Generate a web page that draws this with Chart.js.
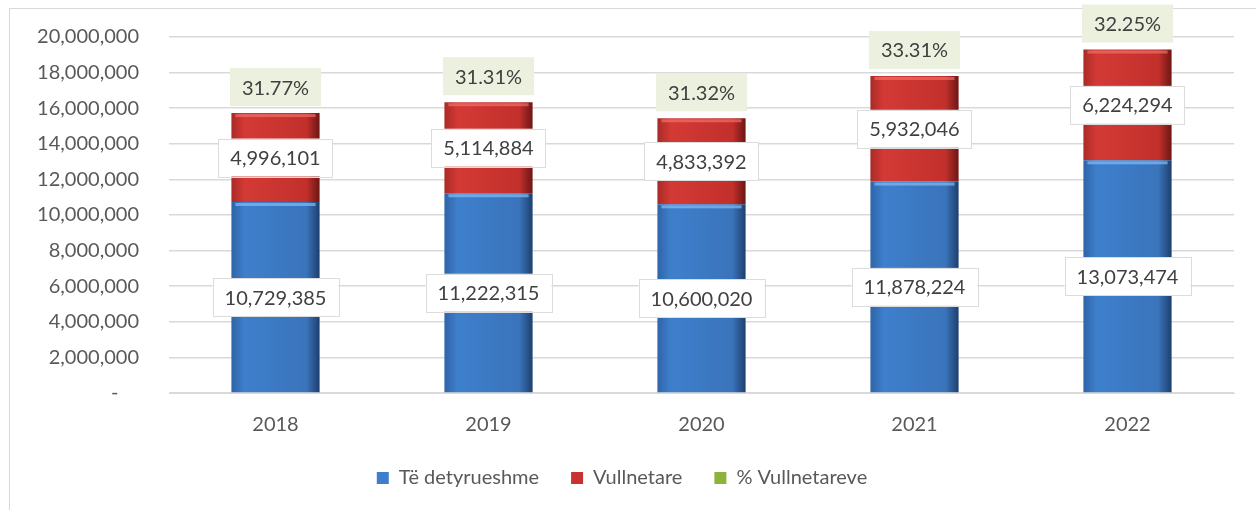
<!DOCTYPE html>
<html lang="sq">
<head>
<meta charset="UTF-8">
<title>Kontributet</title>
<style>
  body { margin: 0; background: #fff; }
  #wrap { width: 1256px; height: 510px; position: relative; }
</style>
</head>
<body>
<div id="wrap"><canvas id="myCanvas"></canvas></div>
<script src="https://cdn.jsdelivr.net/npm/chart.js@4.4.0/dist/chart.umd.min.js"></script>
<script>
// data
const years = ['2018', '2019', '2020', '2021', '2022'];
const detyrueshme = [10729385, 11222315, 10600020, 11878224, 13073474];
const vullnetare = [4996101, 5114884, 4833392, 5932046, 6224294];
const pctVullnetareve = [31.77, 31.31, 31.32, 33.31, 32.25];
const seriesNames = ['Të detyrueshme', 'Vullnetare', '% Vullnetareve'];

const FONT = 'Lato, "Open Sans", sans-serif';
const BAR_PCT = 0.414;

const blueStops = ['#2f64a8', '#3e7fcc', '#3a74bb', '#1d3f6e'];
const redStops = ['#a92a27', '#d33a35', '#c2302c', '#6e1614'];
const legendColors = ['#3e7fcc', '#c9332f', '#8db33a'];

function fmt(v) {
  return v.toLocaleString('en-US');
}

// horizontal shading across each bar, a bit like the excel 3d look
function barFill(stops) {
  return function (ctx) {
    if (ctx.type !== 'data') return stops[1];
    const chart = ctx.chart;
    const x = chart.scales.x;
    if (!x || !chart.chartArea) return stops[1];
    const cx = x.getPixelForValue(ctx.dataIndex);
    const w = (x.width / years.length) * BAR_PCT;
    const g = chart.ctx.createLinearGradient(cx - w / 2, 0, cx + w / 2, 0);
    g.addColorStop(0, stops[0]);
    g.addColorStop(0.15, stops[1]);
    g.addColorStop(0.85, stops[2]);
    g.addColorStop(1, stops[3]);
    return g;
  };
}

function drawBox(c, text, x, y, fill, stroke) {
  const w = c.measureText(text).width + 24;
  const h = 38;
  c.fillStyle = fill;
  c.fillRect(x - w / 2, y - h / 2, w, h);
  if (stroke) {
    c.strokeStyle = stroke;
    c.lineWidth = 1;
    c.strokeRect(Math.round(x - w / 2) + 0.5, Math.round(y - h / 2) + 0.5, Math.round(w), h);
  }
  c.fillStyle = '#404040';
  c.fillText(text, x, y + 1);
}

const frame = {
  id: 'frame',
  beforeDraw(chart) {
    const c = chart.ctx;
    c.save();
    c.strokeStyle = '#d9d9d9';
    c.lineWidth = 1;
    c.strokeRect(9.5, 8.5, chart.width, chart.height);
    c.restore();
  }
};

const barTop = {
  id: 'barTop',
  afterDatasetsDraw(chart) {
    const c = chart.ctx;
    c.save();
    // light strip on top of each segment
    [[0, 'rgba(130,190,250,0.7)'], [1, 'rgba(250,120,115,0.6)']].forEach(([di, col]) => {
      chart.getDatasetMeta(di).data.forEach(bar => {
        const w = bar.width;
        c.fillStyle = col;
        c.fillRect(bar.x - w / 2 + 4, bar.y + 1, w - 8, 3);
      });
    });
    // value labels
    c.font = '20px ' + FONT;
    c.textAlign = 'center';
    c.textBaseline = 'middle';
    [0, 1].forEach(di => {
      const meta = chart.getDatasetMeta(di);
      meta.data.forEach((bar, i) => {
        const v = chart.data.datasets[di].data[i];
        drawBox(c, fmt(v), bar.x, (bar.y + bar.base) / 2, '#ffffff', '#dcdcdc');
      });
    });
    chart.getDatasetMeta(1).data.forEach((bar, i) => {
      drawBox(c, pctVullnetareve[i].toFixed(2) + '%', bar.x, bar.y - 26, '#ebf1de', null);
    });
    c.restore();
  }
};

const ctx = document.getElementById('myCanvas').getContext('2d');
const chart = new Chart(ctx, {
  type: 'bar',
  data: {
    labels: years,
    datasets: [{
      label: seriesNames[0],
      data: detyrueshme,
      backgroundColor: barFill(blueStops),
      borderWidth: 0,
      barPercentage: BAR_PCT,
      categoryPercentage: 1
    }, {
      label: seriesNames[1],
      data: vullnetare,
      backgroundColor: barFill(redStops),
      borderWidth: 0,
      barPercentage: BAR_PCT,
      categoryPercentage: 1
    }, {
      type: 'line',
      label: seriesNames[2],
      data: pctVullnetareve,
      yAxisID: 'y2',
      showLine: false,
      pointRadius: 0,
      backgroundColor: legendColors[2],
      borderColor: legendColors[2]
    }]
  },
  options: {
    responsive: true,
    maintainAspectRatio: false,
    animation: false,
    layout: { padding: { left: 10, right: 22, top: 37, bottom: 12 } },
    scales: {
      x: {
        stacked: true,
        grid: { display: false },
        border: { color: '#d9d9d9', width: 1 },
        ticks: { font: { size: 20, family: FONT }, color: '#595959', padding: 12 },
        afterFit: s => { s.height = 43; }
      },
      y: {
        stacked: true,
        min: 0,
        max: 20000000,
        grid: { color: '#d9d9d9', lineWidth: 1.5, drawTicks: false },
        border: { display: false },
        ticks: {
          stepSize: 2000000,
          padding: 30,
          font: { size: 20, family: FONT },
          color: '#595959',
          callback: v => v === 0 ? '-    ' : fmt(v)
        },
        // tick padding would otherwise push the plot area down
        afterFit: s => { s.width = 159; s.paddingTop = 10; s.paddingBottom = 10; }
      },
      y2: { display: false, min: 0, max: 100 }
    },
    plugins: {
      tooltip: { enabled: false },
      legend: {
        position: 'bottom',
        labels: {
          font: { size: 20, family: FONT },
          color: '#595959',
          boxWidth: 12,
          boxHeight: 12,
          padding: 32,
          generateLabels: ch => seriesNames.map((n, i) => ({
            text: n,
            fillStyle: legendColors[i],
            strokeStyle: legendColors[i],
            lineWidth: 0,
            fontColor: '#595959',
            datasetIndex: i,
            hidden: false
          }))
        }
      }
    }
  },
  plugins: [frame, barTop]
});
</script>
</body>
</html>
